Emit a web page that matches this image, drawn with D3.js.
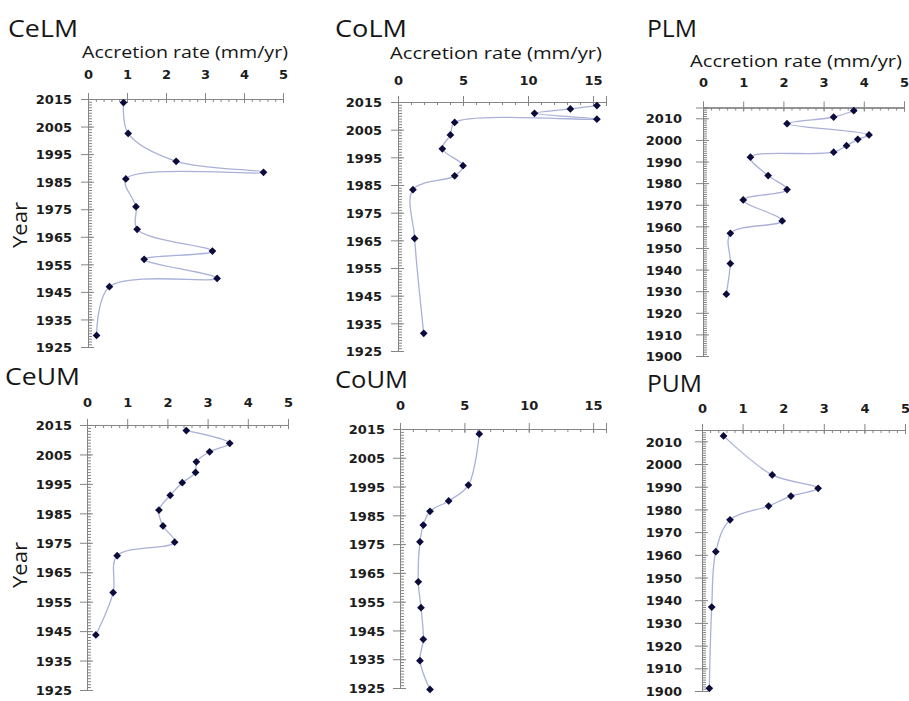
<!DOCTYPE html>
<html><head><meta charset="utf-8">
<script src="https://cdn.jsdelivr.net/npm/d3@7"></script>
<style>body{margin:0;background:#fff}</style>
</head><body><svg id="c" width="909" height="701"></svg>
<script>
// ---------- data ----------
const celmYear = [2013.7,2002.5,1992.4,1988.4,1986.0,1975.9,1967.7,1959.8,1956.8,1949.9,1946.9,1929.2];
const celmRate = [0.91,1.03,2.26,4.50,0.97,1.23,1.26,3.19,1.44,3.31,0.55,0.22];
const colmYear = [2013.7,2012.5,2010.9,2008.8,2007.6,2003.1,1998.1,1992.0,1988.3,1983.3,1965.7,1931.4];
const colmRate = [15.3,13.26,10.5,15.3,4.36,4.03,3.41,5.0,4.36,1.15,1.28,1.98];
const plmYear = [2013.5,2010.6,2007.5,2002.3,2000.3,1997.3,1994.3,1992.0,1983.5,1977.0,1972.2,1962.5,1956.8,1942.8,1928.6];
const plmRate = [3.75,3.25,2.09,4.13,3.85,3.57,3.25,1.18,1.62,2.09,1.0,1.97,0.68,0.68,0.58];
const ceumYear = [2013.1,2008.8,2005.9,2002.5,1998.9,1995.4,1991.1,1986.1,1980.7,1975.2,1970.6,1958.1,1943.7];
const ceumRate = [2.47,3.55,3.05,2.72,2.70,2.37,2.07,1.79,1.89,2.18,0.75,0.65,0.22];
const coumYear = [2013.3,1995.5,1990.0,1986.4,1981.6,1975.8,1961.9,1952.9,1941.9,1934.5,1924.5];
const coumRate = [6.16,5.31,3.78,2.33,1.81,1.55,1.42,1.63,1.81,1.55,2.33];
const pumYear = [2012.4,1995.2,1989.3,1985.9,1981.5,1975.4,1961.4,1937.0,1901.2];
const pumRate = [0.53,1.73,2.86,2.19,1.64,0.69,0.34,0.24,0.18];

const rateTicks5 = [0,1,2,3,4,5];
const rateTicks15 = [0,5,10,15];
const yearTicksA = [2015,2005,1995,1985,1975,1965,1955,1945,1935,1925];
const yearTicksB = [2010,2000,1990,1980,1970,1960,1950,1940,1930,1920,1910,1900];

const panelNames = ["CeLM","CoLM","PLM","CeUM","CoUM","PUM"];
const axisTitle = "Accretion rate (mm/yr)";
const yearTitle = "Year";

// ---------- layout ----------
const layout = [
  {year:celmYear, rate:celmRate, xMax:5, xTicks:rateTicks5, xMinor:0.2, yMin:1925, yTicks:yearTicksA,
   x0:88, x1:283, yTop:99, yBot:347, title:[8,37,70], acc:[82,58,206], xlb:79, ylr:72, yl:[20,225]},
  {year:colmYear, rate:colmRate, xMax:16, xTicks:rateTicks15, xMinor:1, yMin:1925, yTicks:yearTicksA,
   x0:398, x1:606, yTop:102, yBot:351, title:[335,37,72], acc:[390,59,212], xlb:85, ylr:382},
  {year:plmYear, rate:plmRate, xMax:5, xTicks:rateTicks5, xMinor:0.2, yMin:1900, yTicks:yearTicksB,
   x0:703, x1:904, yTop:107.5, yBot:356, title:[647,37,50], acc:[690,67,212], xlb:87, ylr:682},
  {year:ceumYear, rate:ceumRate, xMax:5, xTicks:rateTicks5, xMinor:0.2, yMin:1925, yTicks:yearTicksA,
   x0:87, x1:288, yTop:425, yBot:690, title:[5,385,75], acc:null, xlb:407, ylr:72, yl:[20,565]},
  {year:coumYear, rate:coumRate, xMax:16, xTicks:rateTicks15, xMinor:1, yMin:1925, yTicks:yearTicksA,
   x0:400, x1:606, yTop:429, yBot:688, title:[335,388,73], acc:null, xlb:410, ylr:385},
  {year:pumYear, rate:pumRate, xMax:5, xTicks:rateTicks5, xMinor:0.2, yMin:1900, yTicks:yearTicksB,
   x0:702, x1:905, yTop:430, yBot:691, title:[647,392,55], acc:null, xlb:413, ylr:682}
];

const svg = d3.select("#c");
svg.append("rect").attr("width",909).attr("height",701).attr("fill","#fff");

const axisColor = "#858585";
const lineColor = "#aab1d8";
const markColor = "#0c0c3c";
const labelFont = "'DejaVu Sans', sans-serif";
const titleFont = "'Open Sans', 'Noto Sans', sans-serif";

layout.forEach((p, i) => {
  const g = svg.append("g");
  const x = d3.scaleLinear().domain([0, p.xMax]).range([p.x0, p.x1]);
  const y = d3.scaleLinear().domain([p.yMin, 2015]).range([p.yBot, p.yTop]);

  const xMinorVals = d3.range(0, p.xMax + 1e-6, p.xMinor).map(v => +v.toFixed(3));
  const yMinorVals = d3.range(p.yMin, 2016, 1);

  const gxMinor = g.append("g").attr("transform", `translate(0,${p.yTop})`)
    .call(d3.axisBottom(x).tickValues(xMinorVals).tickSize(3).tickFormat(""));
  const gyMinor = g.append("g").attr("transform", `translate(${p.x0},0)`)
    .call(d3.axisRight(y).tickValues(yMinorVals).tickSize(4).tickFormat(""));
  const gxMajIn = g.append("g").attr("transform", `translate(0,${p.yTop})`)
    .call(d3.axisBottom(x).tickValues(p.xTicks).tickSize(4).tickFormat(""));
  const gyMajIn = g.append("g").attr("transform", `translate(${p.x0},0)`)
    .call(d3.axisRight(y).tickValues(p.yTicks).tickSize(6).tickFormat(""));
  const gx = g.append("g").attr("transform", `translate(0,${p.yTop})`)
    .call(d3.axisTop(x).tickValues(p.xTicks).tickSize(6).tickPadding(p.yTop - p.xlb - 6).tickFormat(d3.format("d")));
  const gy = g.append("g").attr("transform", `translate(${p.x0},0)`)
    .call(d3.axisLeft(y).tickValues(p.yTicks).tickSize(7).tickPadding(p.x0 - p.ylr - 7).tickFormat(d3.format("d")));

  [gxMinor, gyMinor, gxMajIn, gyMajIn, gx, gy].forEach(a => {
    a.selectAll("path.domain").attr("stroke", axisColor).attr("stroke-width", 1);
    a.selectAll(".tick line").attr("stroke", axisColor).attr("stroke-width", 1);
  });
  [gx, gy].forEach(a => a.selectAll("text")
    .attr("font-family", labelFont).attr("font-weight", "bold")
    .attr("font-size", 13).attr("fill", "#1c1c1c"));
  gx.selectAll("text").attr("dy", 0);
  gy.selectAll("text").attr("dy", "0.36em");

  const pts = p.year.map((yr, k) => [p.rate[k], yr]);
  const line = d3.line().x(d => x(d[0])).y(d => y(d[1])).curve(d3.curveCatmullRom.alpha(0.5));
  g.append("path").attr("d", line(pts)).attr("fill", "none")
    .attr("stroke", lineColor).attr("stroke-width", 1.3);
  const sym = d3.symbol().type(d3.symbolSquare).size(30);
  g.selectAll("path.mk").data(pts).join("path").attr("class", "mk")
    .attr("d", sym)
    .attr("transform", d => `translate(${x(d[0])},${y(d[1])}) rotate(45)`)
    .attr("fill", markColor);

  g.append("text").attr("x", p.title[0]).attr("y", p.title[1])
    .attr("textLength", p.title[2]).attr("lengthAdjust", "spacingAndGlyphs")
    .attr("font-family", titleFont).attr("font-size", 23).attr("fill", "#161616")
    .text(panelNames[i]);
  if (p.acc) {
    g.append("text").attr("x", p.acc[0]).attr("y", p.acc[1])
      .attr("textLength", p.acc[2]).attr("lengthAdjust", "spacingAndGlyphs")
      .attr("font-family", titleFont).attr("font-size", 17).attr("fill", "#161616")
      .text(axisTitle);
  }
  if (p.yl) {
    g.append("text").attr("transform", `translate(${p.yl[0] + 7},${p.yl[1]}) rotate(-90)`)
      .attr("text-anchor", "middle").attr("textLength", 46).attr("lengthAdjust", "spacingAndGlyphs")
      .attr("font-family", titleFont).attr("font-size", 20).attr("fill", "#161616")
      .text(yearTitle);
  }
});
</script></body></html>
